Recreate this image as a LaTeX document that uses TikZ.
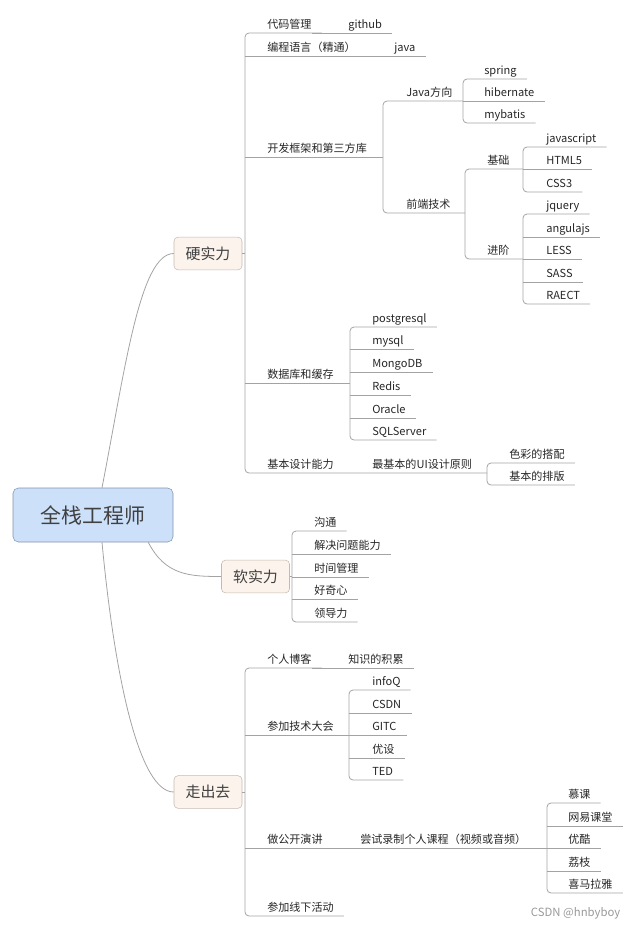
\documentclass[tikz,border=0pt]{standalone}
\usepackage{fontspec}
\usepackage{tikz}
\usetikzlibrary{calc}
\newfontfamily\cjk{Noto Sans CJK SC}
\definecolor{linegray}{HTML}{A3A3A3}
\definecolor{rootblue}{HTML}{CCE0FA}
\definecolor{rootedge}{HTML}{8292AA}
\definecolor{mainfill}{HTML}{FBF3EC}
\definecolor{mainedge}{HTML}{C5BAB0}
\tikzset{
  topic/.style={anchor=south west, inner xsep=0pt, inner ysep=3pt, text depth=0pt,
    font=\cjk\fontsize{8.3}{10}\selectfont, text=black!85},
  mainbox/.style={draw=mainedge, fill=mainfill, rounded corners=3pt, minimum width=51pt,
    minimum height=24.5pt, font=\cjk\fontsize{11.2}{13}\selectfont, text=black!75},
  link/.style={draw=linegray, line width=0.6pt, rounded corners=3pt},
  branch/.style={draw=linegray, line width=0.6pt},
}
\begin{document}
\begin{tikzpicture}[x=0.75pt, y=-0.75pt]
    \useasboundingbox (0,0) rectangle (640,929);
    \node[draw=rootedge, fill=rootblue, rounded corners=4pt, minimum width=120pt, minimum height=40.5pt,
      font=\cjk\fontsize{15.7}{18}\selectfont, text=black!75] (root) at (93,515) {全栈工程师};
    \node[mainbox] (hard) at (208,253.5) {硬实力};
    \node[mainbox] (soft) at (255.5,576.5) {软实力};
    \node[mainbox] (goout) at (208,792) {走出去};
    \draw[branch] ([xshift=6.75pt]root.north) .. controls +(23,-118) and +(-34,0) .. (hard.west);
    \draw[branch] ([xshift=-18.75pt]root.south east) .. controls +(17,33) and +(-32,0) .. (soft.west);
    \draw[branch] ([xshift=6.75pt]root.south) .. controls +(13,138) and +(-34,0) .. (goout.west);

    \coordinate (bhard) at (245,0);
    \coordinate (bframe) at (383,0);
    \coordinate (bjava) at (463,0);
    \coordinate (bfront) at (465,0);
    \coordinate (bbasic) at (523,0);
    \coordinate (badv) at (523,0);
    \coordinate (bdb) at (350,0);
    \coordinate (bui) at (487,0);
    \coordinate (bsoft) at (292,0);
    \coordinate (bout) at (245,0);
    \coordinate (bconf) at (349,0);
    \coordinate (brec) at (547,0);

    \node[topic] (code) at (267,33) {代码管理};
    \node[topic] (github) at (348,33) {github};
    \node[topic] (lang) at (267,56) {编程语言（精通）};
    \node[topic] (java) at (394,56) {java};
    \node[topic] (frame) at (267,157) {开发框架和第三方库};
    \node[topic] (javadir) at (406,101) {Java方向};
    \node[topic] (spring) at (484,79) {spring};
    \node[topic] (hibernate) at (484,101) {hibernate};
    \node[topic] (mybatis) at (484,123) {mybatis};
    \node[topic] (front) at (406,213) {前端技术};
    \node[topic] (basic) at (487,169) {基础};
    \node[topic] (js) at (546,147) {javascript};
    \node[topic] (html) at (546,169) {HTML5};
    \node[topic] (css) at (546,192) {CSS3};
    \node[topic] (adv) at (487,259) {进阶};
    \node[topic] (jquery) at (546,214) {jquery};
    \node[topic] (angular) at (546,237) {angulajs};
    \node[topic] (less) at (546,259) {LESS};
    \node[topic] (sass) at (546,282) {SASS};
    \node[topic] (react) at (546,304) {RAECT};
    \node[topic] (db) at (267,383) {数据库和缓存};
    \node[topic] (pg) at (372,327) {postgresql};
    \node[topic] (mysql) at (372,349) {mysql};
    \node[topic] (mongo) at (372,372) {MongoDB};
    \node[topic] (redis) at (372,395) {Redis};
    \node[topic] (oracle) at (372,418) {Oracle};
    \node[topic] (sqls) at (372,440) {SQLServer};
    \node[topic] (design) at (267,473) {基本设计能力};
    \node[topic] (uirule) at (372,473) {最基本的UI设计原则};
    \node[topic] (color) at (509,463) {色彩的搭配};
    \node[topic] (layout) at (509,485) {基本的排版};

    \node[topic] (comm) at (314,531) {沟通};
    \node[topic] (solve) at (314,554) {解决问题能力};
    \node[topic] (timem) at (314,577) {时间管理};
    \node[topic] (curious) at (314,599) {好奇心};
    \node[topic] (lead) at (314,622) {领导力};

    \node[topic] (blog) at (267,668) {个人博客};
    \node[topic] (know) at (348,668) {知识的积累};
    \node[topic] (conf) at (267,735) {参加技术大会};
    \node[topic] (infoq) at (372,690) {infoQ};
    \node[topic] (csdn) at (372,713) {CSDN};
    \node[topic] (gitc) at (372,735) {GITC};
    \node[topic] (youshe) at (372,758) {优设};
    \node[topic] (ted) at (372,780) {TED};
    \node[topic] (talk) at (267,848) {做公开演讲};
    \node[topic] (record) at (360,848) {尝试录制个人课程（视频或音频）};
    \node[topic] (mooc) at (568,803) {慕课};
    \node[topic] (netease) at (568,826) {网易课堂};
    \node[topic] (youku) at (568,848) {优酷};
    \node[topic] (lizhi) at (568,871) {荔枝};
    \node[topic] (xmly) at (568,893) {喜马拉雅};
    \node[topic] (offline) at (267,916) {参加线下活动};

    \node[anchor=east, font=\cjk\fontsize{8.5}{10}\selectfont, text=black!40] (mark) at (625,913) {CSDN @hnbyboy};

    \draw[link] (hard.east) -- (bhard |- hard.east);
    \draw[link] ($(code.south east)+(10,0)$) -- (bhard |- code.south) -- (bhard |- design.south) -- (bui |- design.south);
    \foreach \c in {lang,frame,db}
        \draw[link] (bhard |- \c.south) -- ($(\c.south east)+(10,0)$);
    \draw[link] (code.south east) -- ($(github.south east)+(10,0)$);
    \draw[link] (lang.south east) -- ($(java.south east)+(10,0)$);

    \draw[link] (frame.south east) -- (bframe |- frame.south);
    \draw[link] (bjava |- javadir.south) -- (bframe |- javadir.south) -- (bframe |- front.south) -- (bfront |- front.south);
    \draw[link] ($(spring.south east)+(10,0)$) -- (bjava |- spring.south) -- (bjava |- mybatis.south) -- ($(mybatis.south east)+(10,0)$);
    \draw[link] (bjava |- hibernate.south) -- ($(hibernate.south east)+(10,0)$);
    \draw[link] (bbasic |- basic.south) -- (bfront |- basic.south) -- (bfront |- adv.south) -- (badv |- adv.south);
    \draw[link] ($(js.south east)+(10,0)$) -- (bbasic |- js.south) -- (bbasic |- css.south) -- ($(css.south east)+(10,0)$);
    \draw[link] (bbasic |- html.south) -- ($(html.south east)+(10,0)$);
    \draw[link] ($(jquery.south east)+(10,0)$) -- (badv |- jquery.south) -- (badv |- react.south) -- ($(react.south east)+(10,0)$);
    \foreach \c in {angular,less,sass}
        \draw[link] (badv |- \c.south) -- ($(\c.south east)+(10,0)$);

    \draw[link] (db.south east) -- (bdb |- db.south);
    \draw[link] ($(pg.south east)+(10,0)$) -- (bdb |- pg.south) -- (bdb |- sqls.south) -- ($(sqls.south east)+(10,0)$);
    \foreach \c in {mysql,mongo,redis,oracle}
        \draw[link] (bdb |- \c.south) -- ($(\c.south east)+(10,0)$);
    \draw[link] ($(color.south east)+(10,0)$) -- (bui |- color.south) -- (bui |- layout.south) -- ($(layout.south east)+(10,0)$);

    \draw[link] (soft.east) -- (bsoft |- soft.east);
    \draw[link] ($(comm.south east)+(10,0)$) -- (bsoft |- comm.south) -- (bsoft |- lead.south) -- ($(lead.south east)+(10,0)$);
    \foreach \c in {solve,timem,curious}
        \draw[link] (bsoft |- \c.south) -- ($(\c.south east)+(10,0)$);

    \draw[link] (goout.east) -- (bout |- goout.east);
    \draw[link] ($(blog.south east)+(10,0)$) -- (bout |- blog.south) -- (bout |- offline.south) -- ($(offline.south east)+(10,0)$);
    \foreach \c in {conf,talk}
        \draw[link] (bout |- \c.south) -- ($(\c.south east)+(10,0)$);
    \draw[link] (blog.south east) -- ($(know.south east)+(10,0)$);
    \draw[link] (conf.south east) -- (bconf |- conf.south);
    \draw[link] ($(infoq.south east)+(10,0)$) -- (bconf |- infoq.south) -- (bconf |- ted.south) -- ($(ted.south east)+(10,0)$);
    \foreach \c in {csdn,gitc,youshe}
        \draw[link] (bconf |- \c.south) -- ($(\c.south east)+(10,0)$);
    \draw[link] (talk.south east) -- (brec |- talk.south);
    \draw[link] ($(mooc.south east)+(10,0)$) -- (brec |- mooc.south) -- (brec |- xmly.south) -- ($(xmly.south east)+(10,0)$);
    \foreach \c in {netease,youku,lizhi}
        \draw[link] (brec |- \c.south) -- ($(\c.south east)+(10,0)$);
\end{tikzpicture}
\end{document}
